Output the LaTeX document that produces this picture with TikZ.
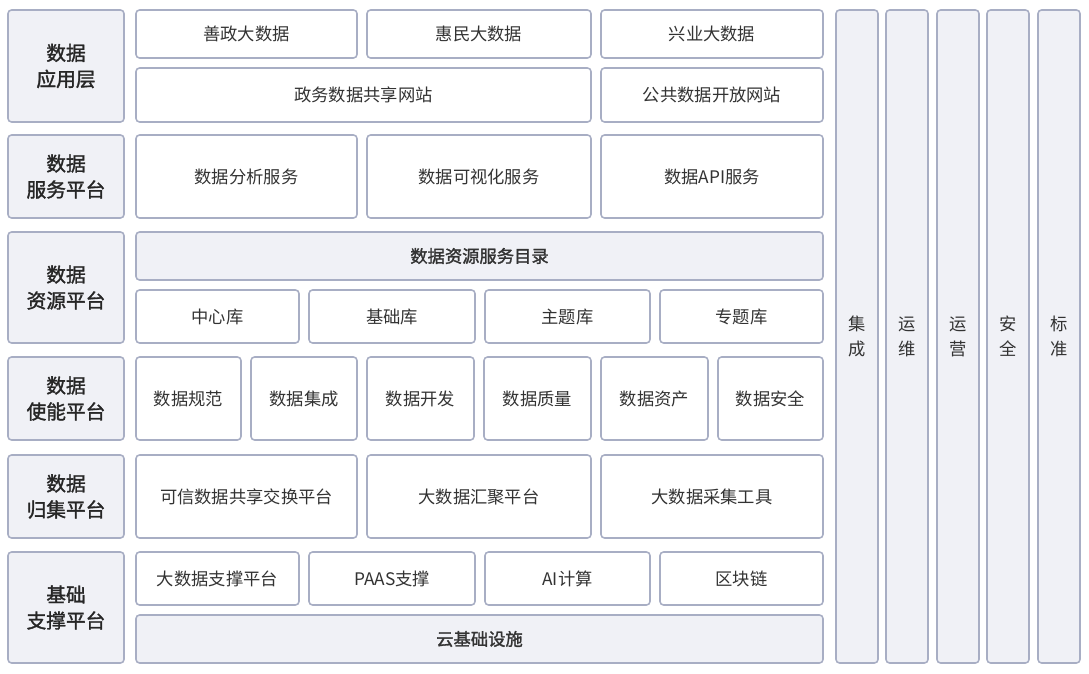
\documentclass[tikz,border=0pt]{standalone}
\usepackage{fontspec}
\setmainfont{Noto Sans CJK SC}
\newfontfamily\medfont[FakeBold=1.6]{Noto Sans CJK SC}
\usetikzlibrary{positioning}

\definecolor{bordc}{HTML}{A8AEC4}
\definecolor{graybg}{HTML}{F0F1F6}
\definecolor{txtc}{HTML}{333333}

\begin{document}
\begin{tikzpicture}[
  x=0.025cm, y=-0.025cm,
  wd/.style={minimum width=#1*0.025cm},
  ht/.style={minimum height=#1*0.025cm},
  cell/.style={draw=bordc, line width=1.1pt, rounded corners=2.5pt,
               fill=white, inner sep=0pt, align=center, text=txtc,
               font=\fontsize{12.3}{16}\selectfont},
  cgray/.style={cell, fill=graybg},
  cbold/.style={cgray, font=\fontsize{12.3}{16}\selectfont\medfont},
  layer/.style={cgray, wd=116, text=black!85,
                font=\fontsize{14}{18.5}\selectfont\medfont},
  side/.style={cgray, wd=42, ht=653,
               font=\fontsize{12.3}{17.8}\selectfont}
]
\useasboundingbox (0,0) rectangle (1089,674);

%% ── layer labels ────────────────────────────────────────────────────────
\node[layer, ht=112] (lapp) at (66, 66)    {数据\\应用层};
\node[layer, ht=83]  (lsvc) at (66, 176.5) {数据\\服务平台};
\node[layer, ht=111] (lres) at (66, 287.5) {数据\\资源平台};
\node[layer, ht=83]  (lena) at (66, 398.5) {数据\\使能平台};
\node[layer, ht=83]  (lcol) at (66, 496.5) {数据\\归集平台};
\node[layer, ht=111] (lbas) at (66, 607.5) {基础\\支撑平台};

%% ── application layer ───────────────────────────────────────────────────
\node[cell, wd=221, ht=48] (shanzheng) at (246.5, 34) {善政大数据};
\node[cell, wd=224, ht=48] (huimin)    at (479,   34) {惠民大数据};
\node[cell, wd=222, ht=48] (xingye)    at (712,   34) {兴业大数据};
\node[cell, wd=455, ht=54] (zwweb)     at (363.5, 95) {政务数据共享网站};
\node[cell, wd=222, ht=54] (ggweb)     at (712,   95) {公共数据开放网站};

%% ── service platform ────────────────────────────────────────────────────
\node[cell, wd=221, ht=83] (fenxi)  at (246.5, 176.5) {数据分析服务};
\node[cell, wd=224, ht=83] (keshi)  at (479,   176.5) {数据可视化服务};
\node[cell, wd=222, ht=83] (apisvc) at (712,   176.5) {数据API服务};

%% ── resource platform ───────────────────────────────────────────────────
\node[cbold, wd=687, ht=48] (mulu) at (479.5, 256) {数据资源服务目录};
\node[cell, wd=163, ht=53] (zhongxin) at (217.5, 316.5) {中心库};
\node[cell, wd=166, ht=53] (jichu)    at (392,   316.5) {基础库};
\node[cell, wd=165, ht=53] (zhuti)    at (567.5, 316.5) {主题库};
\node[cell, wd=163, ht=53] (zhuanti)  at (741.5, 316.5) {专题库};

%% ── enabling platform ───────────────────────────────────────────────────
\node[cell, wd=105, ht=83] (guifan)  at (188.5, 398.5) {数据规范};
\node[cell, wd=106, ht=83] (jicheng) at (304,   398.5) {数据集成};
\node[cell, wd=107, ht=83] (kaifa)   at (420.5, 398.5) {数据开发};
\node[cell, wd=107, ht=83] (zhiliang) at (537.5, 398.5) {数据质量};
\node[cell, wd=107, ht=83] (zichan)  at (654.5, 398.5) {数据资产};
\node[cell, wd=105, ht=83] (anquan)  at (770.5, 398.5) {数据安全};

%% ── collection platform ─────────────────────────────────────────────────
\node[cell, wd=221, ht=83] (jiaohuan) at (246.5, 496.5) {可信数据共享交换平台};
\node[cell, wd=224, ht=83] (huiju)    at (479,   496.5) {大数据汇聚平台};
\node[cell, wd=222, ht=83] (caiji)    at (712,   496.5) {大数据采集工具};

%% ── base support platform ───────────────────────────────────────────────
\node[cell, wd=163, ht=53] (dsj)  at (217.5, 578.5) {大数据支撑平台};
\node[cell, wd=166, ht=53] (paas) at (392,   578.5) {PAAS支撑};
\node[cell, wd=165, ht=53] (ai)   at (567.5, 578.5) {AI计算};
\node[cell, wd=163, ht=53] (qkl)  at (741.5, 578.5) {区块链};
\node[cbold, wd=687, ht=48] (yun) at (479.5, 639) {云基础设施};

%% ── side columns ────────────────────────────────────────────────────────
\node[side] (sjc) at (857,  336.5) {集\\成};
\node[side] (syw) at (907,  336.5) {运\\维};
\node[side] (syy) at (958,  336.5) {运\\营};
\node[side] (saq) at (1008, 336.5) {安\\全};
\node[side] (sbz) at (1059, 336.5) {标\\准};

\end{tikzpicture}
\end{document}
